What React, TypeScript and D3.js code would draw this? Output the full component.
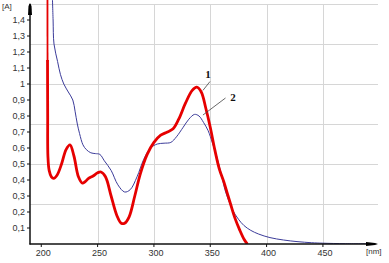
import React from "react";
import * as d3 from "d3";

const redTop: [number, number][] = [[205.5, 1.56], [205.55, 1.14]];

const redSeries: [number, number][] = [
  [205.55, 1.15], [205.7, 0.8], [205.9, 0.55], [207, 0.46], [209, 0.42], [211, 0.41],
  [214, 0.43], [218, 0.5], [222, 0.59], [225.5, 0.62], [229, 0.55], [233, 0.42], [236.5, 0.38],
  [239, 0.39], [242, 0.41], [246, 0.425], [250, 0.445], [253, 0.45], [257, 0.42], [262, 0.3],
  [267, 0.18], [271, 0.13], [274, 0.13], [278, 0.17], [283, 0.3], [288, 0.44], [294, 0.56],
  [300, 0.635], [306, 0.68], [312, 0.7], [317, 0.72], [322, 0.78], [328, 0.88], [334, 0.96],
  [338, 0.98], [342, 0.95], [346, 0.85], [350, 0.73], [354, 0.59], [358, 0.47], [362, 0.39],
  [365, 0.32], [368, 0.25], [372, 0.16], [376, 0.09], [380, 0.03], [383, 0.0],
];

const blueSeries: [number, number][] = [
  [209.8, 1.56], [210.5, 1.4], [211.3, 1.25], [214.5, 1.14], [217, 1.06], [220, 1.0], [224, 0.95],
  [228, 0.9], [230, 0.83], [232, 0.75], [234, 0.69], [237, 0.62], [240, 0.59], [244, 0.57],
  [248, 0.565], [252, 0.56], [256, 0.52], [262, 0.46], [268, 0.37], [274, 0.325], [279, 0.34],
  [285, 0.42], [291, 0.53], [297, 0.6], [303, 0.625], [309, 0.63], [315, 0.635], [320, 0.67],
  [326, 0.73], [331, 0.78], [336, 0.81], [340, 0.8], [344, 0.76], [348, 0.71], [352, 0.63],
  [356, 0.54], [360, 0.43], [363, 0.34], [367, 0.26], [370, 0.21], [375, 0.155], [380, 0.115],
  [386, 0.085], [393, 0.062], [403, 0.04], [415, 0.025], [427, 0.015], [440, 0.008], [450, 0.005],
  [470, 0.002], [495, 0.001],
];

const xTicks = [200, 250, 300, 350, 400, 450];
const xGrid = [250, 300, 350, 400, 450];
const yTicks = [0.1, 0.2, 0.3, 0.4, 0.5, 0.6, 0.7, 0.8, 0.9, 1.0, 1.1, 1.2, 1.3, 1.4];
const yGrid = [0.25, 0.5, 0.75, 1.0, 1.25, 1.5];

// curve labels: anchor on curve (nm, A) and label text
const curveLabels = [
  { text: "1", at: [343.5, 0.96] as [number, number] },
  { text: "2", at: [343.5, 0.806] as [number, number] },
];

export default function App() {
  const W = 389, H = 263;
  const x = d3.scaleLinear().domain([190, 498]).range([30, 377]);
  const y = d3.scaleLinear().domain([0, 1.5]).range([244, 4]);
  const line = d3.line<[number, number]>().x(d => x(d[0])).y(d => y(d[1])).curve(d3.curveCatmullRom.alpha(0.5));
  const fmt = (v: number) => (Math.round(v * 10) / 10).toString().replace(".", ",");
  const font = "Arial, 'Liberation Sans', sans-serif";
  const serif = "'Liberation Serif', 'DejaVu Serif', serif";
  const l1 = curveLabels[0].at, l2 = curveLabels[1].at;
  return (
    <svg width={W} height={H} style={{ position: "absolute", left: 0, top: 0, background: "#fff" }}>
      <defs>
        <clipPath id="plot"><rect x={30} y={0} width={350} height={244} /></clipPath>
      </defs>
      {yGrid.map(v => (
        <line key={"h" + v} x1={30} x2={378} y1={Math.round(y(v)) + 0.5} y2={Math.round(y(v)) + 0.5} stroke="#d6d6d6" strokeWidth={1} />
      ))}
      {xGrid.map(v => (
        <line key={"v" + v} x1={Math.round(x(v)) + 0.5} x2={Math.round(x(v)) + 0.5} y1={4} y2={244} stroke="#d6d6d6" strokeWidth={1} />
      ))}
      <g clipPath="url(#plot)">
        <path d={line(blueSeries) || ""} fill="none" stroke="#3c3c9a" strokeWidth={1} />
        <path d={d3.line<[number, number]>().x(d => x(d[0])).y(d => y(d[1]))(redTop) || ""} fill="none" stroke="#e60000" strokeWidth={1.8} />
        <path d={line(redSeries) || ""} fill="none" stroke="#e60000" strokeWidth={2.8} strokeLinejoin="round" />
      </g>
      {/* axes */}
      <line x1={30} x2={30} y1={4} y2={244.5} stroke="#111" strokeWidth={1.5} />
      <line x1={29.5} x2={372} y1={244} y2={244} stroke="#111" strokeWidth={1.5} />
      <polygon points="28,15 32,15 31.5,6 30,3 28.5,6" fill="#000" />
      <polygon points="366,242 366,246 375,245 378,244 375,243" fill="#000" />
      {yTicks.map(v => (
        <g key={"yt" + v}>
          <line x1={27} x2={30} y1={y(v)} y2={y(v)} stroke="#111" strokeWidth={1} />
          <text x={25} y={y(v)} dy="0.35em" textAnchor="end" fontSize={9} fontFamily={font} fill="#333">{fmt(v)}</text>
        </g>
      ))}
      {xTicks.map(v => (
        <g key={"xt" + v}>
          <line x1={x(v)} x2={x(v)} y1={244} y2={247} stroke="#111" strokeWidth={1} />
          <text x={x(v) + 2} y={253} dy="0.35em" textAnchor="middle" fontSize={9} fontFamily={font} fill="#333">{v}</text>
        </g>
      ))}
      <text x={2} y={9} fontSize={8} fontFamily={font} fill="#333">[A]</text>
      <text x={366} y={254} fontSize={8} fontFamily={font} fill="#333">[nm]</text>
      {/* leader labels */}
      <line x1={x(l1[0])} y1={y(l1[1])} x2={210} y2={81.5} stroke="#444" strokeWidth={0.8} />
      <text x={208} y={78} textAnchor="middle" fontSize={11} fontWeight="bold" fontFamily={serif} fill="#111">{curveLabels[0].text}</text>
      <line x1={x(l2[0])} y1={y(l2[1])} x2={225.5} y2={98} stroke="#444" strokeWidth={0.8} />
      <text x={233} y={101} textAnchor="middle" fontSize={11} fontWeight="bold" fontFamily={serif} fill="#111">{curveLabels[1].text}</text>
    </svg>
  );
}
